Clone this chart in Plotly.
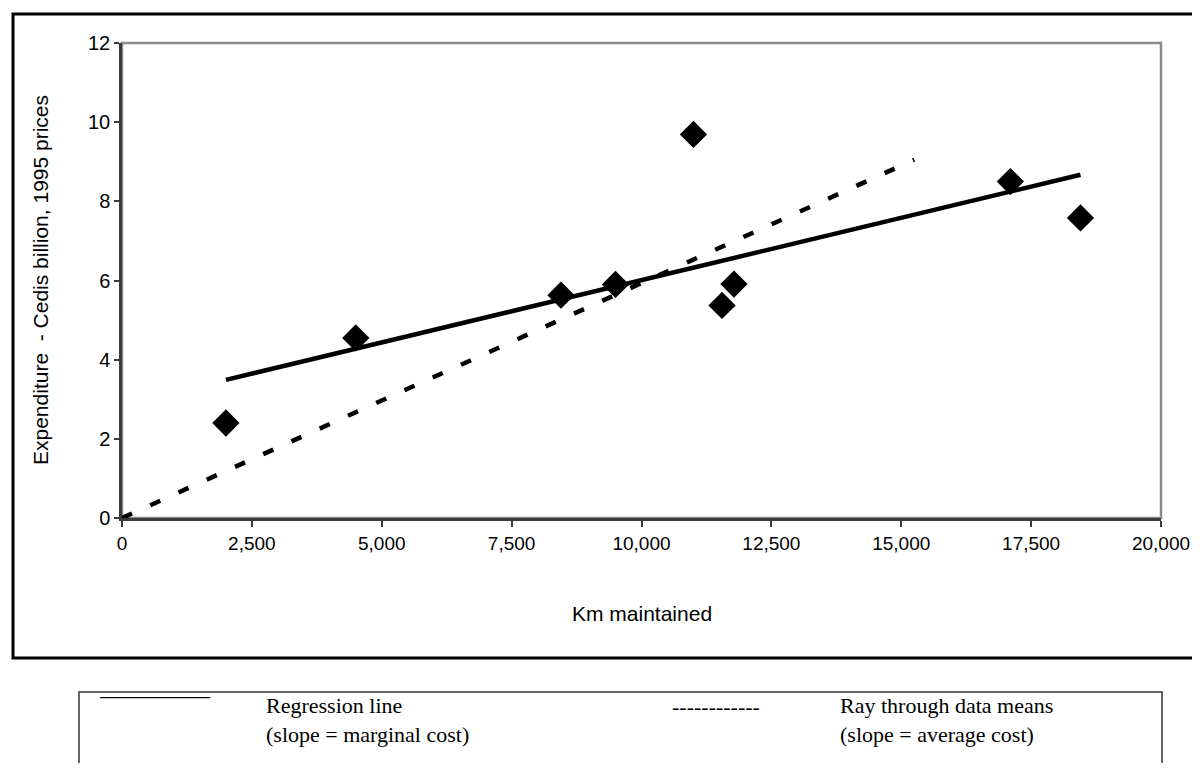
import plotly.graph_objects as go

# Data
km_maintained = [2000, 4500, 8450, 9500, 11000, 11550, 11780, 17100, 18450]
expenditure = [2.40, 4.55, 5.63, 5.90, 9.69, 5.37, 5.91, 8.50, 7.58]

reg_x = [2000, 18450]
reg_y = [3.49, 8.67]

ray_x = [0, 15250]
ray_y = [0, 9.05]

x_ticks = [0, 2500, 5000, 7500, 10000, 12500, 15000, 17500, 20000]
y_ticks = [0, 2, 4, 6, 8, 10, 12]

OFF = 8  # page body margin
W, H = 1200 - 2 * OFF, 771 - 2 * OFF
# plot area in screen pixels of the reference
L, R, T, B = 122, 1161, 43, 518
pw, ph = R - L, B - T


def px(x):
    return (x - L) / pw


def py(y):
    return (B - y) / ph


fig = go.Figure()
fig.add_trace(go.Scatter(x=ray_x, y=ray_y, mode="lines",
                         line=dict(color="black", width=4.5, dash="11px,20px"),
                         showlegend=False, hoverinfo="skip"))
fig.add_trace(go.Scatter(x=reg_x, y=reg_y, mode="lines",
                         line=dict(color="black", width=4.5),
                         showlegend=False, hoverinfo="skip"))
fig.add_trace(go.Scatter(x=km_maintained, y=expenditure, mode="markers",
                         marker=dict(symbol="diamond", size=21, color="black"),
                         showlegend=False))

sans = "Arial, 'Liberation Sans', sans-serif"
serif = "'Liberation Serif', 'Times New Roman', serif"

fig.update_layout(
    width=W, height=H,
    margin=dict(l=L - OFF, r=W - (R - OFF), t=T - OFF, b=H - (B - OFF)),
    paper_bgcolor="white", plot_bgcolor="white",
    font=dict(family=sans, size=20, color="black"),
    xaxis=dict(range=[0, 20000], tickvals=x_ticks, tickformat=",",
               automargin=False, ticklabeloverflow="allow",
               showgrid=False, zeroline=False, showline=True,
               linecolor="#3a3a3a", linewidth=2.5,
               ticks="outside", ticklen=6, tickwidth=1.5, tickcolor="#3a3a3a",
               tickfont=dict(family=sans, size=19, color="black")),
    yaxis=dict(range=[0, 12], tickvals=y_ticks, automargin=False,
               ticklabeloverflow="allow",
               showgrid=False, zeroline=False, showline=True,
               linecolor="#3a3a3a", linewidth=2.5,
               ticks="outside", ticklen=5, tickwidth=1.5, tickcolor="#3a3a3a",
               tickfont=dict(family=sans, size=20, color="black")),
    shapes=[
        dict(type="rect", xref="paper", yref="paper", x0=0, x1=1, y0=0, y1=1,
             line=dict(color="#8c8c8c", width=2.5), layer="below"),
        dict(type="rect", xref="paper", yref="paper",
             x0=px(13), x1=px(1215), y0=py(658), y1=py(14),
             line=dict(color="black", width=3)),
        dict(type="rect", xref="paper", yref="paper",
             x0=px(79), x1=px(1162), y0=py(800), y1=py(692),
             line=dict(color="#333333", width=1.5)),
    ],
    annotations=[
        dict(text="Expenditure  - Cedis billion, 1995 prices", textangle=-90,
             xref="paper", yref="paper", x=px(40), y=py(280),
             xanchor="center", yanchor="middle", showarrow=False,
             font=dict(family=sans, size=21, color="black")),
        dict(text="Km maintained",
             xref="paper", yref="paper", x=px(642), y=py(613),
             xanchor="center", yanchor="middle", showarrow=False,
             font=dict(family=sans, size=21, color="black")),
        dict(text="___________",
             xref="paper", yref="paper", x=px(97), y=py(688),
             xanchor="left", yanchor="middle", showarrow=False,
             font=dict(family=serif, size=20, color="black")),
        dict(text="Regression line<br>(slope = marginal cost)",
             xref="paper", yref="paper", x=px(264), y=py(720),
             xanchor="left", yanchor="middle", align="left", showarrow=False,
             font=dict(family=serif, size=22, color="black")),
        dict(text="------------",
             xref="paper", yref="paper", x=px(670), y=py(706),
             xanchor="left", yanchor="middle", showarrow=False,
             font=dict(family=serif, size=22, color="black")),
        dict(text="Ray through data means<br>(slope = average cost)",
             xref="paper", yref="paper", x=px(838), y=py(720),
             xanchor="left", yanchor="middle", align="left", showarrow=False,
             font=dict(family=serif, size=22, color="black")),
    ],
)

fig.write_html("out.html")
